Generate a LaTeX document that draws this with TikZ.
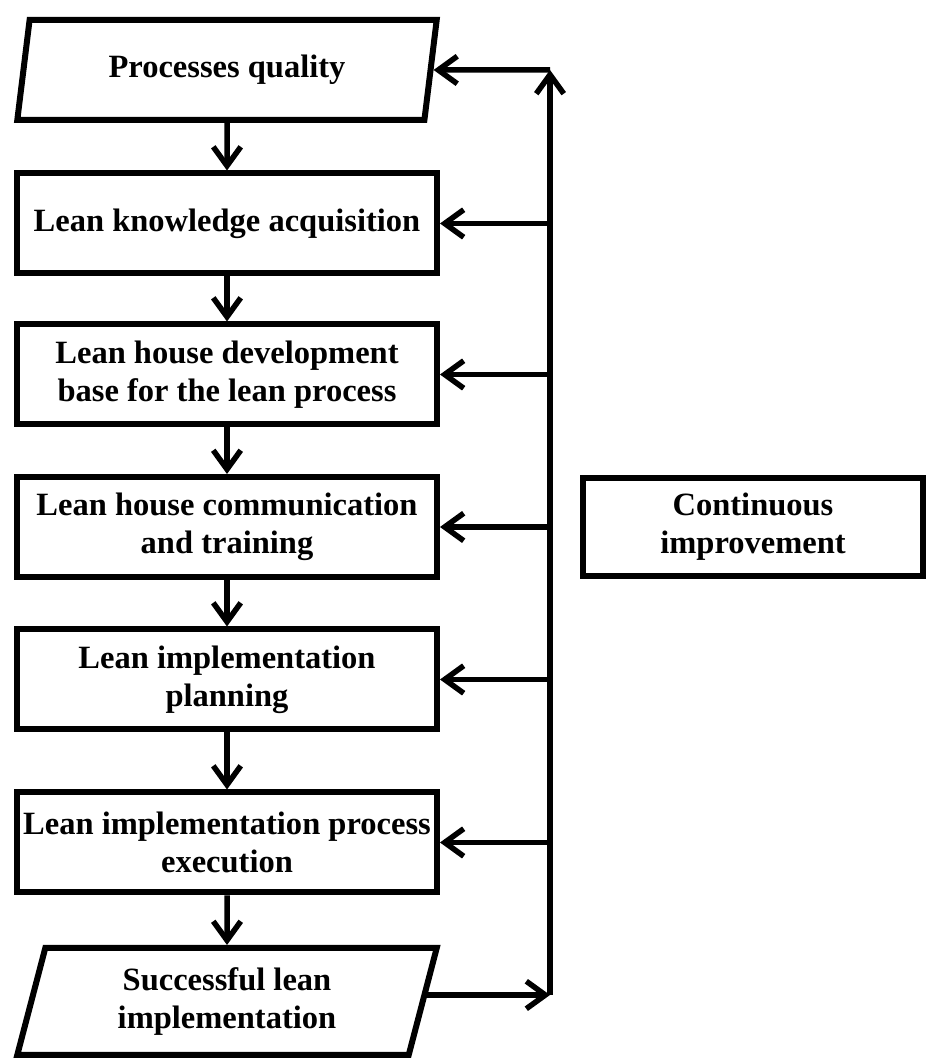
\documentclass[tikz,border=0pt]{standalone}
\usepackage{fontspec}
\setmainfont{Liberation Serif}
\usetikzlibrary{arrows.meta,shapes.geometric,positioning}

\begin{document}
\begin{tikzpicture}[
    blok/.style={rectangle,
        draw = black,
        line width = 0.12cm,
        minimum width = 8.4cm,
        minimum height = 2cm,
        inner sep = 0pt,
        align = center,
        font = \bfseries\fontsize{18.5}{21.5}\selectfont},
    para/.style={blok, trapezium,
        trapezium left angle = 76,
        trapezium right angle = 104,
        trapezium stretches = true},
    arr/.style={line width = 0.11cm, -{Straight Barb[length=0.38cm,width=0.55cm]}}]
\useasboundingbox (0,0) rectangle (18.52,21.22);

\node[para] (pq) at (4.54,19.82) {Processes quality};
\node[blok] (lka) at (4.54,16.75) {Lean knowledge acquisition};
\node[blok] (lhd) at (4.54,13.73) {Lean house development\\base for the lean process};
\node[blok] (lhc) at (4.54,10.68) {Lean house communication\\and training};
\node[blok] (lip) at (4.54,7.63) {Lean implementation\\planning};
\node[blok] (lie) at (4.54,4.37) {Lean implementation process\\execution};
\node[para, minimum height = 2.14cm] (sli) at (4.54,1.19) {Successful lean\\implementation};

\node[blok, minimum width = 6.8cm, minimum height = 1.96cm] (ci) at (15.06,10.68) {Continuous\\improvement};

% down the chain
\foreach \a/\b in {pq/lka,lka/lhd,lhd/lhc,lhc/lip,lip/lie,lie/sli}
    \draw[arr] (\a) -- (\b);

% feedback loop
\coordinate (top) at (11,19.82);
\coordinate (bot) at (11,1.32);
\draw[arr] (sli.east |- bot) -- (bot);
\draw[arr] (bot) -- (top);
\draw[arr] (top) -- (pq.east);
\foreach \b in {lka,lhd,lhc,lip,lie}
    \draw[arr] (top |- \b.east) -- (\b.east);

\end{tikzpicture}
\end{document}
